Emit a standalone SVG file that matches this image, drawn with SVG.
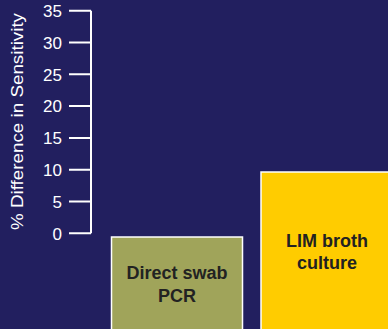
<svg xmlns="http://www.w3.org/2000/svg" width="388" height="329" viewBox="0 0 388 329">
<style>
.tick{fill:#FFFFFF;font-family:"Liberation Sans",Arial,sans-serif;font-size:17px;text-anchor:end}
.ax{stroke:#FFFFFF;stroke-width:2;fill:none}
.bar{stroke:#FFFFFF;stroke-width:1.5}
.lbl{fill:#222222;font-family:"Liberation Sans",Arial,sans-serif;font-size:18px;font-weight:bold;text-anchor:middle}
</style>
<rect width="388" height="329" fill="#221F5F"/>
<g id="axis">
<path class="ax" d="M91 10.7V233.3M69 10.7H91M69 42.5H91M69 74.3H91M69 106.1H91M69 137.9H91M69 169.7H91M69 201.5H91M69 233.3H91"/>
<text class="tick" x="62" y="17">35</text>
<text class="tick" x="62" y="48.8">30</text>
<text class="tick" x="62" y="80.6">25</text>
<text class="tick" x="62" y="112.4">20</text>
<text class="tick" x="62" y="144.2">15</text>
<text class="tick" x="62" y="176">10</text>
<text class="tick" x="62" y="207.8">5</text>
<text class="tick" x="62" y="239.6">0</text>
<text transform="translate(22.5 121.5) rotate(-90)" fill="#FFFFFF" font-family="'Liberation Sans',Arial,sans-serif" font-size="16" text-anchor="middle" textLength="217" lengthAdjust="spacingAndGlyphs">% Difference in Sensitivity</text>
</g>
<g id="bar-direct-swab">
<rect class="bar" x="111.5" y="237" width="131" height="100" fill="#A0A45A"/>
<text class="lbl" x="177" y="279">Direct swab</text>
<text class="lbl" x="177" y="302">PCR</text>
</g>
<g id="bar-lim-broth">
<rect class="bar" x="261" y="172" width="140" height="170" fill="#FFCC00"/>
<text class="lbl" x="327" y="247">LIM broth</text>
<text class="lbl" x="327" y="269">culture</text>
</g>
</svg>
